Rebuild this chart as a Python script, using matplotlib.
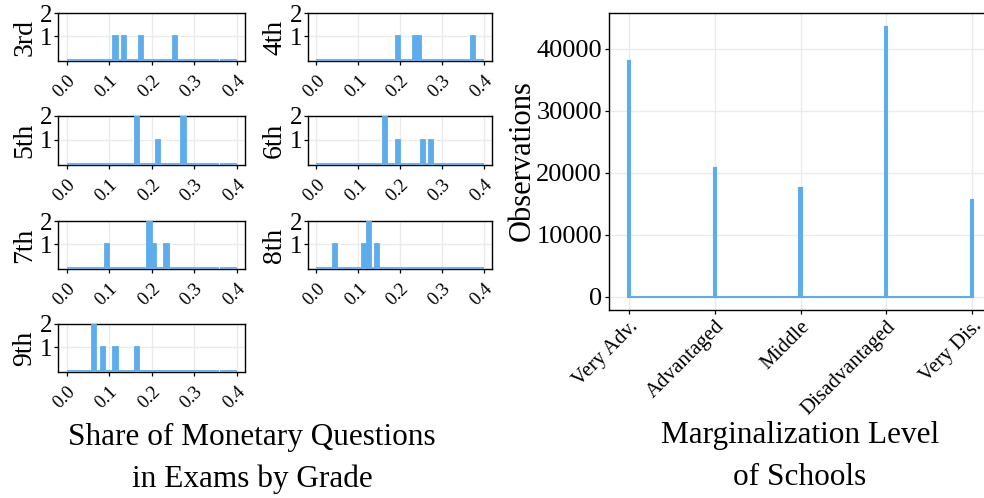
import numpy as np
import matplotlib
matplotlib.use("Agg")
import matplotlib.pyplot as plt

plt.rcParams['font.family'] = ['Liberation Serif', 'DejaVu Serif']

# Share of monetary questions per exam, by grade
grade_labels = ["3rd", "4th", "5th", "6th", "7th", "8th", "9th"]
share_3rd = [0.115, 0.135, 0.175, 0.255]
share_4th = [0.195, 0.235, 0.245, 0.375]
share_5th = [0.165, 0.165, 0.215, 0.275, 0.275]
share_6th = [0.165, 0.165, 0.195, 0.255, 0.275]
share_7th = [0.095, 0.195, 0.195, 0.205, 0.235]
share_8th = [0.045, 0.115, 0.125, 0.125, 0.145]
share_9th = [0.065, 0.065, 0.085, 0.115, 0.165]
share_ticks = [0.0, 0.1, 0.2, 0.3, 0.4]
share_tick_labels = ["0.0", "0.1", "0.2", "0.3", "0.4"]

# Observations by marginalization level of schools
levels = ["Very Adv.", "Advantaged", "Middle", "Disadvantaged", "Very Dis."]
observations = [38000, 20700, 17450, 43600, 15600]
obs_ticks = [0, 10000, 20000, 30000, 40000]

BLUE = "#5DADEC"
GRID = "#EBEBEB"
W, H = 984, 498

fig = plt.figure(figsize=(W / 100, H / 100), dpi=100)


def px_axes(left, top, right, bottom):
    return fig.add_axes([left / W, 1 - bottom / H, (right - left) / W, (bottom - top) / H])


def style(ax):
    for s in ax.spines.values():
        s.set_color("black")
        s.set_linewidth(1.0)
    ax.grid(True, color=GRID, linewidth=1.0)
    ax.set_axisbelow(True)
    ax.tick_params(direction="out", length=3, width=0.9, color="black", pad=2)


# Small histogram panels
all_shares = [share_3rd, share_4th, share_5th, share_6th, share_7th, share_8th, share_9th]
col_x = [(58, 245), (308, 492)]
row_y = [(13, 61), (116, 165), (221, 269), (324, 372)]

for i, (lab, vals) in enumerate(zip(grade_labels, all_shares)):
    r, c = divmod(i, 2)
    ax = px_axes(col_x[c][0], row_y[r][0], col_x[c][1], row_y[r][1])
    style(ax)
    counts, edges = np.histogram(vals, bins=40, range=(0.0, 0.4))
    ax.bar(edges[:-1], counts, width=np.diff(edges), align="edge",
           color=BLUE, edgecolor=BLUE, linewidth=1.3, zorder=3)
    ax.set_xlim(-0.02, 0.42)
    ax.set_ylim(-0.05, 2.0)
    ax.set_yticks([1, 2])
    ax.set_yticklabels(["1", "2"], fontsize=18)
    ax.set_xticks(share_ticks)
    ax.set_xticklabels(share_tick_labels, fontsize=13.5, rotation=45,
                       ha="right", rotation_mode="anchor")
    ax.tick_params(axis="x", pad=5)
    ax.tick_params(axis="y", pad=1)
    ax.set_ylabel(lab, fontsize=20, labelpad=2)

# Marginalization panel
ax2 = px_axes(609, 13, 992, 310)
style(ax2)
pos = np.arange(1, len(levels) + 1)
counts2, edges2 = np.histogram(pos, bins=161, range=(0.9875, 5.0125), weights=observations)
ax2.bar(edges2[:-1], counts2, width=np.diff(edges2), align="edge",
        color=BLUE, edgecolor=BLUE, linewidth=1.5, zorder=3)
top = max(observations)
ax2.set_ylim(-0.05 * top, 1.05 * top)
ax2.set_xlim(0.767, 5.233)
ax2.set_yticks(obs_ticks)
ax2.set_yticklabels([str(v) for v in obs_ticks], fontsize=19)
ax2.set_xticks(pos)
ax2.set_xticklabels(levels, fontsize=15, rotation=45, ha="right",
                    rotation_mode="anchor")
fig.text(522 / W, 1 - 161 / H, "Observations", rotation=90, fontsize=22,
         ha="center", va="center")

# Captions
fig.text(252 / W, 1 - 445 / H, "Share of Monetary Questions", fontsize=22.5,
         ha="center", va="baseline")
fig.text(252 / W, 1 - 487 / H, "in Exams by Grade", fontsize=22.5,
         ha="center", va="baseline")
fig.text(800 / W, 1 - 443 / H, "Marginalization Level", fontsize=22.5,
         ha="center", va="baseline")
fig.text(800 / W, 1 - 485 / H, "of Schools", fontsize=22.5,
         ha="center", va="baseline")

fig.savefig("out.png", dpi=100)
